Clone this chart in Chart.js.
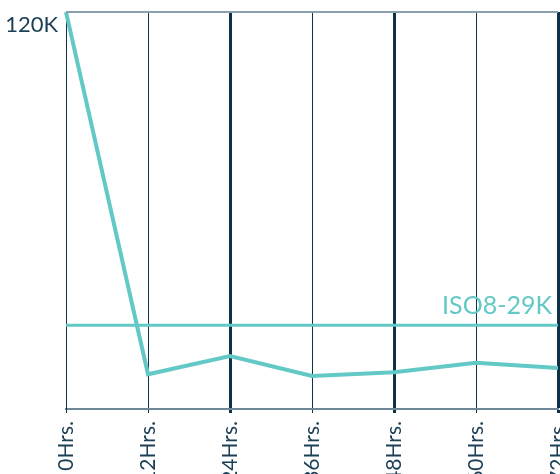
<!DOCTYPE html>
<html>
<head>
<meta charset="utf-8">
<script src="https://cdn.jsdelivr.net/npm/chart.js@4.4.1/dist/chart.umd.min.js"></script>
<style>
  html, body { margin: 0; padding: 0; background: #fff; }
  #wrap { width: 560px; height: 474px; }
</style>
</head>
<body>
<div id="wrap"><canvas id="hrsChart"></canvas></div>
<script>
// values in thousands
const hours = ["0Hrs.", "12Hrs.", "24Hrs.", "36Hrs.", "48Hrs.", "60Hrs.", "72Hrs."];
const counts = [120, 10.5, 16, 10, 11.1, 14, 12.4];
const isoLimit = [25.3, 25.3, 25.3, 25.3, 25.3, 25.3, 25.3];
const isoLabel = "ISO8-29K";
const yTicks = [0, 120];

const TEAL = "#63c9c6";
const NAVY = "#0f3147";
const TEXT = "#1d4056";
const FONT = "Lato, 'Open Sans', sans-serif";

// top border + ISO label
const extras = {
  id: "extras",
  afterDraw(chart) {
    const { ctx, chartArea } = chart;
    const y = chart.scales.y;
    ctx.save();
    ctx.strokeStyle = "#8aa0ac";
    ctx.lineWidth = 2;
    ctx.beginPath();
    ctx.moveTo(chartArea.left, chartArea.top);
    ctx.lineTo(chartArea.right, chartArea.top);
    ctx.stroke();

    ctx.fillStyle = TEAL;
    ctx.font = "25px " + FONT;
    ctx.textAlign = "right";
    ctx.textBaseline = "alphabetic";
    ctx.fillText(isoLabel, chartArea.right - 6, y.getPixelForValue(isoLimit[0]) - 11);
    ctx.restore();
  },
};

new Chart(document.getElementById("hrsChart"), {
  type: "line",
  data: {
    labels: hours,
    datasets: [
      {
        data: counts,
        borderColor: TEAL,
        borderWidth: 4,
        pointRadius: 0,
        tension: 0,
      },
      {
        data: isoLimit,
        borderColor: TEAL,
        borderWidth: 3,
        pointRadius: 0,
      },
    ],
  },
  options: {
    responsive: true,
    maintainAspectRatio: false,
    animation: false,
    layout: { padding: { top: 12, right: 2, left: 0, bottom: 0 } },
    plugins: {
      legend: { display: false },
      tooltip: { enabled: false },
    },
    scales: {
      x: {
        grid: {
          color: NAVY,
          lineWidth: (c) => (c.index === 2 || c.index === 4 || c.index === 6 ? 3 : 1),
          tickLength: 4,
        },
        border: { color: "#6f8897", width: 2 },
        ticks: {
          color: TEXT,
          font: { family: FONT, size: 21 },
          minRotation: 90,
          maxRotation: 90,
          padding: 8,
          autoSkip: false,
        },
        afterFit: (s) => {
          s.height = 65;
          s.paddingLeft = 0;
          s.paddingRight = 0;
        },
      },
      y: {
        min: yTicks[0],
        max: yTicks[1],
        grid: { display: false, drawTicks: false },
        border: { color: NAVY, width: 1 },
        afterBuildTicks: (s) => {
          s.ticks = yTicks.map((v) => ({ value: v }));
        },
        ticks: {
          color: TEXT,
          font: { family: FONT, size: 22 },
          padding: 8,
          labelOffset: 13,
          callback: (v) => (v === 0 ? "" : v + "K"),
        },
        afterFit: (s) => {
          s.width = 66;
          s.paddingTop = 0;
          s.paddingBottom = 0;
        },
      },
    },
  },
  plugins: [extras],
});
</script>
</body>
</html>
